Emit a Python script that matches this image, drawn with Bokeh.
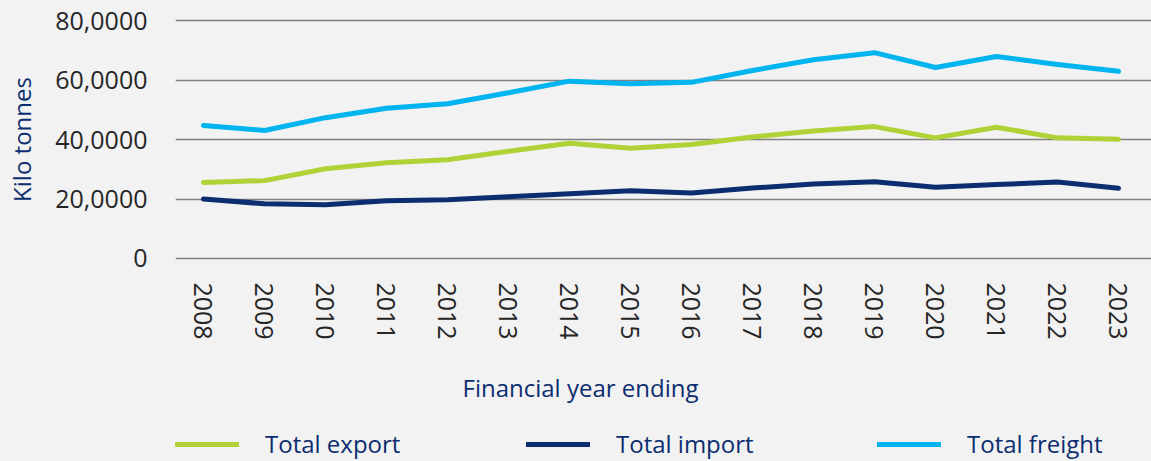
from bokeh.plotting import figure
from bokeh.models import Range1d, FixedTicker, Legend, LegendItem, Title
from bokeh.layouts import column
from bokeh.embed import file_html
from bokeh.resources import INLINE

years = list(range(2008, 2024))
year_labels = [str(y) for y in years]
total_export = [25.6, 26.2, 30.2, 32.2, 33.2, 36.1, 38.8, 37.1, 38.4, 40.9, 42.9, 44.4, 40.6, 44.2, 40.6, 40.1]
total_import = [20.0, 18.4, 18.1, 19.4, 19.8, 20.8, 21.8, 22.8, 22.0, 23.7, 25.1, 25.8, 24.0, 24.9, 25.7, 23.6]
total_freight = [44.8, 43.1, 47.4, 50.6, 52.1, 55.8, 59.7, 58.8, 59.3, 63.3, 66.9, 69.3, 64.3, 68.0, 65.3, 63.0]
series_names = ["Total export", "Total import", "Total freight"]
y_ticks = [0, 20000, 40000, 60000, 80000]
y_tick_labels = ["0", "20,0000", "40,0000", "60,0000", "80,0000"]

export_vals = [v * 1000 for v in total_export]
import_vals = [v * 1000 for v in total_import]
freight_vals = [v * 1000 for v in total_freight]

BG = "#f2f2f2"
NAVY = "#0c2d6f"
GREEN = "#b0d236"
BLUE = "#00b4ef"
FONT = "Open Sans"
colors = [GREEN, NAVY, BLUE]
all_vals = [export_vals, import_vals, freight_vals]

p = figure(width=1151, height=430, output_backend="svg", toolbar_location=None,
           x_range=Range1d(2007.541, 2023.541), y_range=Range1d(-700, 80800),
           background_fill_color=BG, border_fill_color=BG,
           min_border_top=18, min_border_bottom=170, min_border_left=175, min_border_right=0)
p.outline_line_color = None

for vals, c in zip(all_vals, colors):
    p.line(years, vals, line_color=c, line_width=5, line_cap="round", line_join="round")

# y axis
p.yaxis.ticker = FixedTicker(ticks=y_ticks)
p.yaxis.major_label_overrides = {t: l for t, l in zip(y_ticks, y_tick_labels)}
p.yaxis.axis_line_color = None
p.yaxis.major_tick_line_color = None
p.yaxis.minor_tick_line_color = None
p.yaxis.major_label_standoff = 22
p.yaxis.major_label_text_font = FONT
p.yaxis.major_label_text_font_size = "25px"
p.yaxis.major_label_text_color = "#262626"
p.yaxis.axis_label = "Kilo tonnes"
p.yaxis.axis_label_text_font = FONT
p.yaxis.axis_label_text_font_size = "24px"
p.yaxis.axis_label_text_font_style = "normal"
p.yaxis.axis_label_text_color = NAVY
p.yaxis.axis_label_standoff = 14

# x axis
p.xaxis.ticker = FixedTicker(ticks=years)
p.xaxis.major_label_overrides = {y: l for y, l in zip(years, year_labels)}
p.xaxis.major_label_orientation = "vertical"
p.xaxis.axis_line_color = None
p.xaxis.major_tick_line_color = None
p.xaxis.minor_tick_line_color = None
p.xaxis.major_label_standoff = 16
p.xaxis.major_label_text_font = FONT
p.xaxis.major_label_text_font_size = "25px"
p.xaxis.major_label_text_color = "#262626"

p.xgrid.grid_line_color = None
p.ygrid.ticker = FixedTicker(ticks=y_ticks)
p.ygrid.grid_line_color = "#7f7f7f"
p.ygrid.grid_line_width = 1.5

xt = Title(text="Financial year ending", align="left", offset=287, standoff=53,
           text_font=FONT, text_font_size="24px", text_font_style="normal", text_color=NAVY)
p.add_layout(xt, "below")

# legend strip (separate figure below the chart)
lg = figure(width=1151, height=31, output_backend="svg", toolbar_location=None,
            x_range=Range1d(0, 1), y_range=Range1d(0, 1),
            x_axis_type=None, y_axis_type=None,
            background_fill_color=BG, border_fill_color=BG,
            min_border_top=0, min_border_bottom=0, min_border_left=0, min_border_right=0)
lg.outline_line_color = None
lg.xgrid.grid_line_color = None
lg.ygrid.grid_line_color = None
items = []
for name, vals, c in zip(series_names, all_vals, colors):
    r = lg.line(years, vals, line_color=c, line_width=5, line_cap="round")
    items.append(LegendItem(label=name, renderers=[r]))
legend = Legend(items=items, orientation="horizontal", location=(0, 1),
                glyph_width=64, glyph_height=24, label_standoff=26, spacing=0, label_width=261,
                padding=0, margin=0, border_line_color=None, background_fill_alpha=0,
                label_text_font=FONT, label_text_font_size="24px", label_text_color=NAVY)
lg.add_layout(legend, "center")

layout = column(p, lg, spacing=0)
html = file_html(layout, INLINE)
html = html.replace("<head>", "<head><style>body{background:#f2f2f2;}</style>", 1)
open("out.html", "w").write(html)
